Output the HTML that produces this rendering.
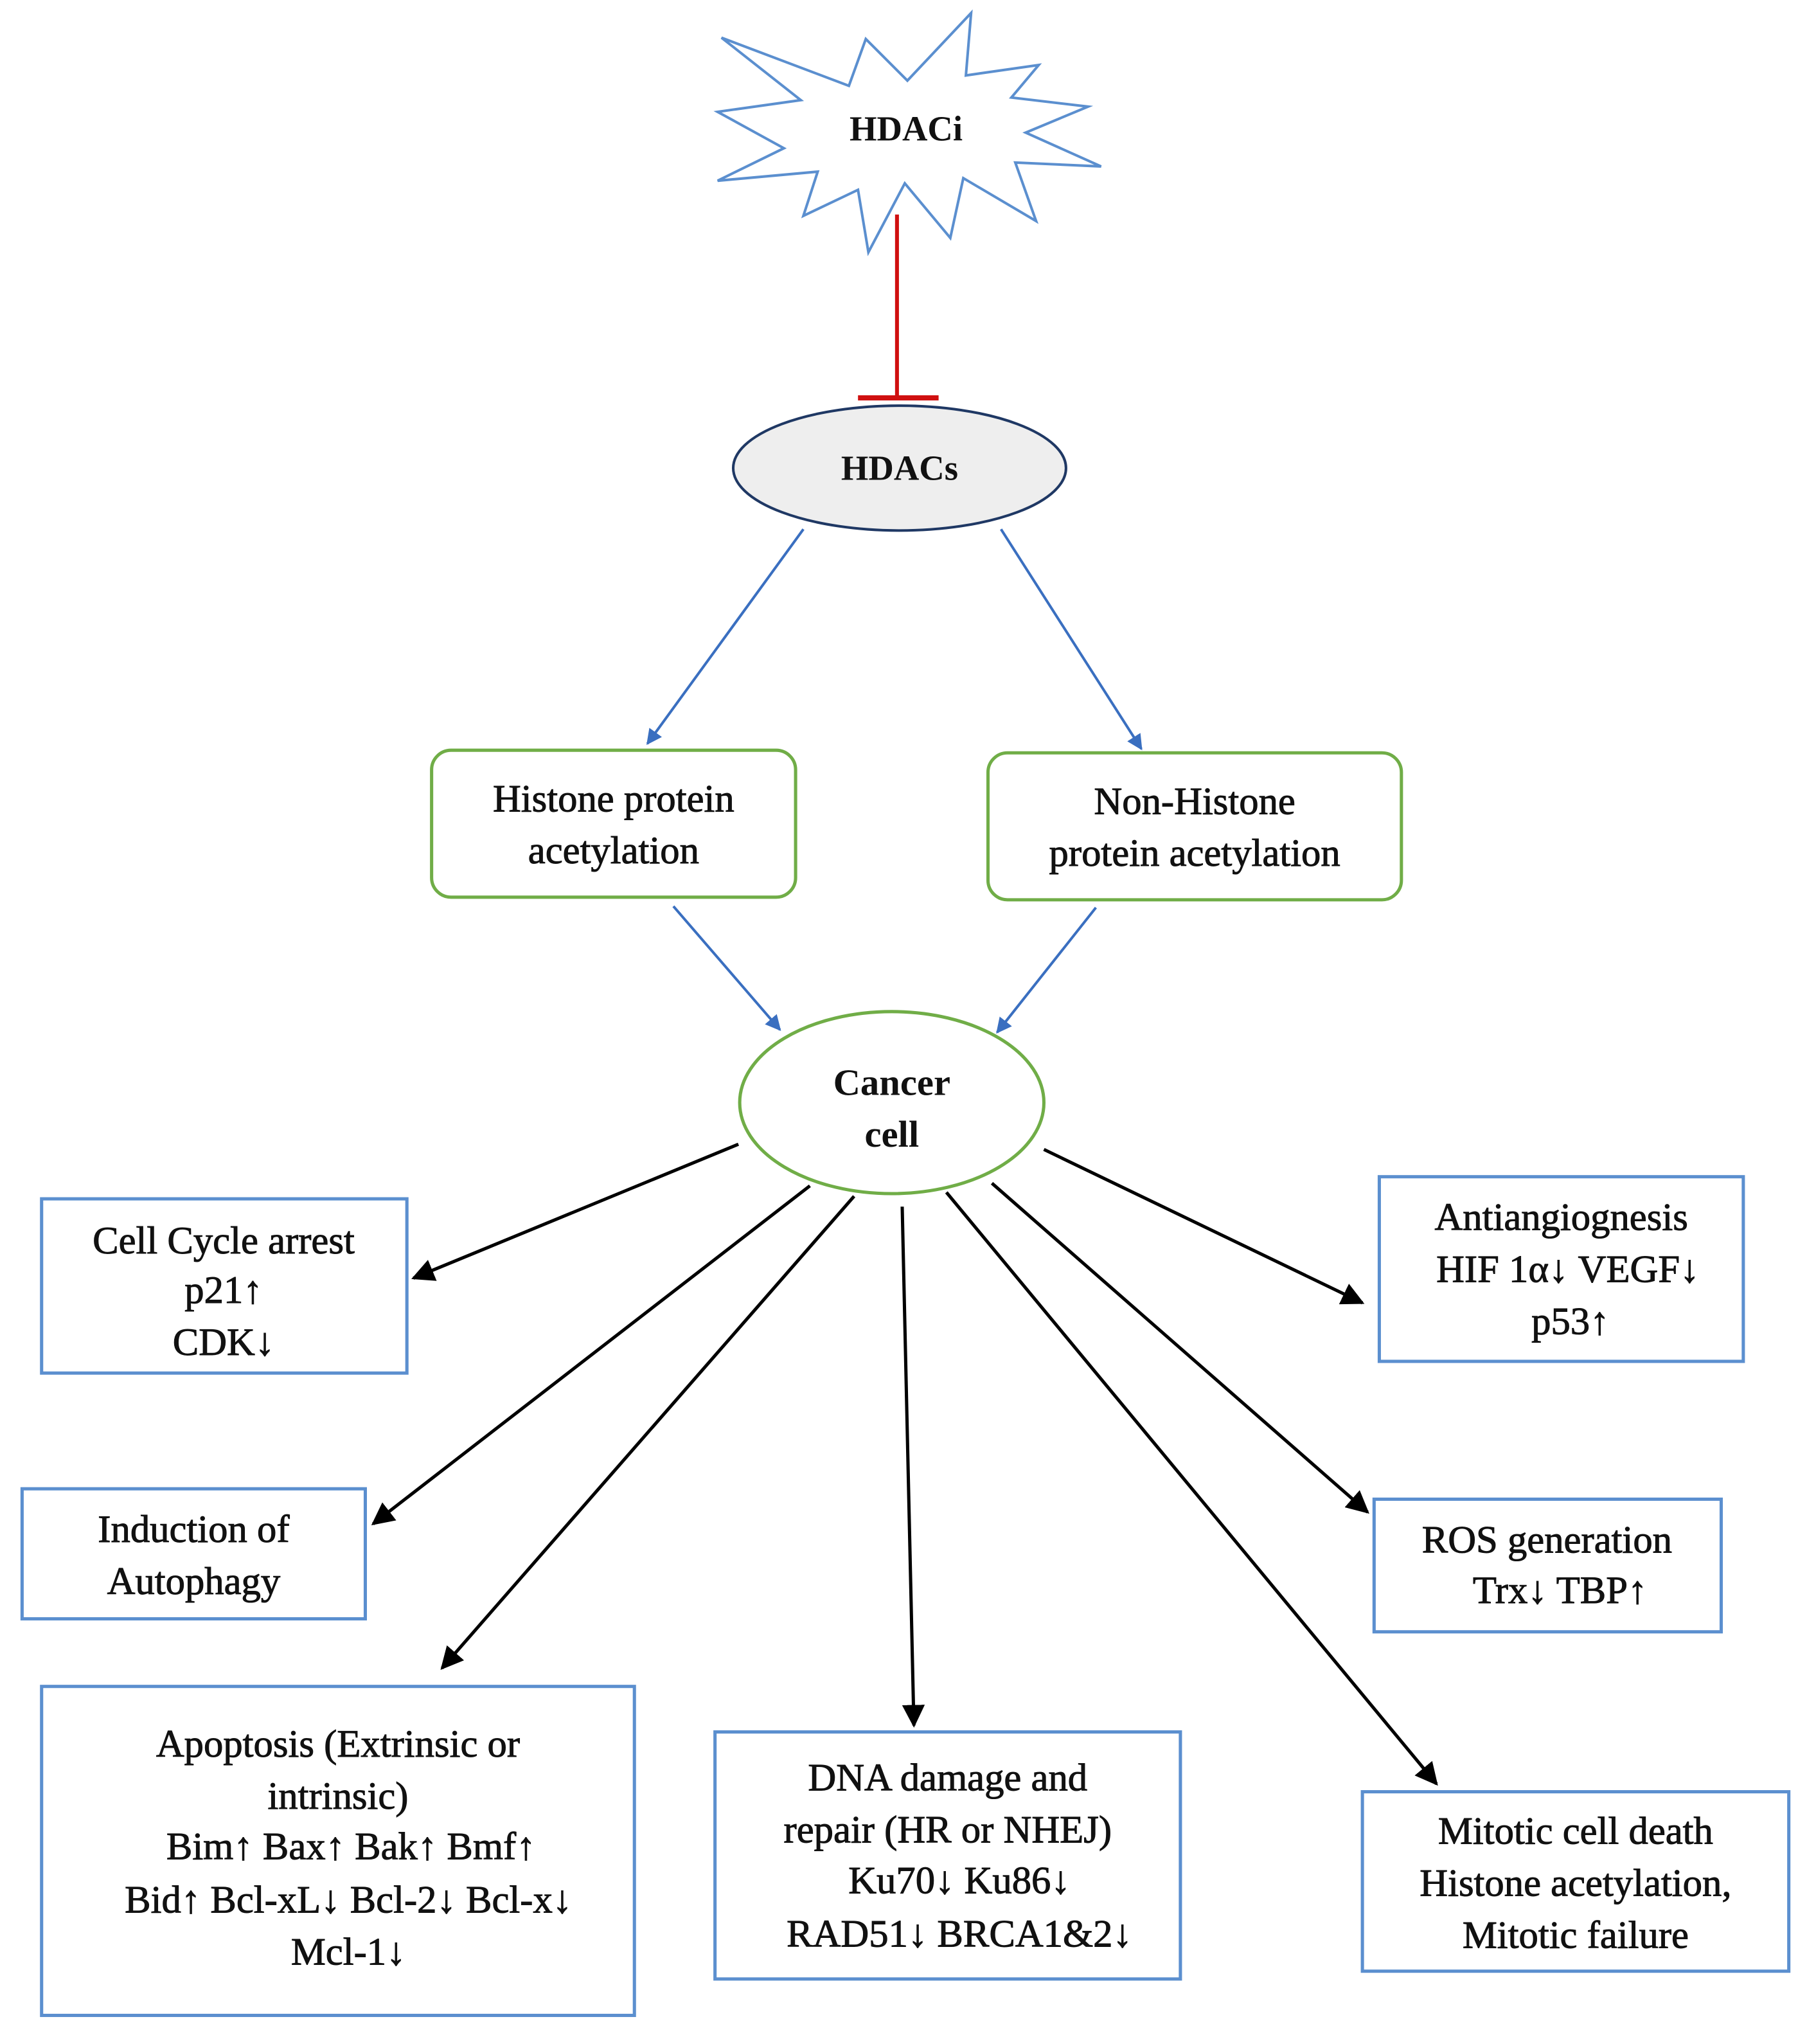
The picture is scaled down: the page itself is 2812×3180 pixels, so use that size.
<!DOCTYPE html>
<html><head><meta charset="utf-8"><style>
html,body{margin:0;padding:0;background:#fff}
svg{display:block}
text{font-family:"Liberation Serif",serif;fill:#111}
</style></head><body>
<svg width="2812" height="3180" viewBox="0 0 1390 1572" preserveAspectRatio="none" xmlns="http://www.w3.org/2000/svg">
<defs>
<marker id="ab" viewBox="0 0 10 10" refX="9" refY="5" markerWidth="6" markerHeight="6" orient="auto"><path d="M0,0 L10,5 L0,10 z" fill="#3a6fc0"/></marker>
<marker id="ak" viewBox="0 0 10 10" refX="9" refY="5" markerWidth="7" markerHeight="7" orient="auto"><path d="M0,0 L10,5 L0,10 z" fill="#000"/></marker>
</defs>
<polygon points="747,10 743,58 799,50 778,75 837,82 789,102 847,128 781,125 797,170 741,137 731,183 696,141 668,194 660,146 618,166 629,132 552,139 603,114 552,86 616,77 555,29 653,66 666,30 698,62" fill="#fff" stroke="#5b8fcf" stroke-width="2"/>
<text x="697" y="108" font-size="27" font-weight="bold" text-anchor="middle">HDACi</text>
<line x1="690" y1="165" x2="690" y2="305" stroke="#d01010" stroke-width="3"/>
<line x1="660" y1="306" x2="722" y2="306" stroke="#d01010" stroke-width="4"/>
<ellipse cx="692" cy="360" rx="128" ry="48" fill="#eeeeee" stroke="#1f3864" stroke-width="2"/>
<text x="692" y="369" font-size="27" font-weight="bold" text-anchor="middle">HDACs</text>
<line x1="618" y1="407" x2="498" y2="572" stroke="#3a6fc0" stroke-width="2" marker-end="url(#ab)"/>
<line x1="770" y1="407" x2="878" y2="576" stroke="#3a6fc0" stroke-width="2" marker-end="url(#ab)"/>
<rect x="332" y="577" width="280" height="113" rx="15" fill="#fff" stroke="#70ad47" stroke-width="2.5"/>
<g stroke="#111" stroke-width="0.5">
<text x="472" y="624" font-size="30" text-anchor="middle">Histone protein</text>
<text x="472" y="664" font-size="30" text-anchor="middle">acetylation</text>
</g>
<rect x="760" y="579" width="318" height="113" rx="15" fill="#fff" stroke="#70ad47" stroke-width="2.5"/>
<g stroke="#111" stroke-width="0.5">
<text x="919" y="626" font-size="30" text-anchor="middle">Non-Histone</text>
<text x="919" y="666" font-size="30" text-anchor="middle">protein acetylation</text>
</g>
<line x1="518" y1="697" x2="600" y2="792" stroke="#3a6fc0" stroke-width="2" marker-end="url(#ab)"/>
<line x1="843" y1="698" x2="767" y2="794" stroke="#3a6fc0" stroke-width="2" marker-end="url(#ab)"/>
<ellipse cx="686" cy="848" rx="117" ry="70" fill="#fff" stroke="#70ad47" stroke-width="2.5"/>
<text x="686" y="842" font-size="29" font-weight="bold" text-anchor="middle">Cancer</text>
<text x="686" y="882" font-size="29" font-weight="bold" text-anchor="middle">cell</text>
<g stroke="#000" stroke-width="2.5">
<line x1="568" y1="880" x2="318" y2="983" marker-end="url(#ak)"/>
<line x1="623" y1="912" x2="287" y2="1172" marker-end="url(#ak)"/>
<line x1="657" y1="920" x2="340" y2="1283" marker-end="url(#ak)"/>
<line x1="694" y1="928" x2="703" y2="1327" marker-end="url(#ak)"/>
<line x1="728" y1="917" x2="1105" y2="1372" marker-end="url(#ak)"/>
<line x1="763" y1="910" x2="1052" y2="1163" marker-end="url(#ak)"/>
<line x1="803" y1="884" x2="1048" y2="1002" marker-end="url(#ak)"/>
</g>
<g fill="#fff" stroke="#5b8fcf" stroke-width="2.5">
<rect x="32" y="922" width="281" height="134"/>
<rect x="17" y="1145" width="264" height="100"/>
<rect x="32" y="1297" width="456" height="253"/>
<rect x="550" y="1332" width="358" height="190"/>
<rect x="1048" y="1378" width="328" height="138"/>
<rect x="1057" y="1153" width="267" height="102"/>
<rect x="1061" y="905" width="280" height="142"/>
</g>
<g font-size="30" text-anchor="middle" stroke="#111" stroke-width="0.5">
<text x="172" y="964">Cell Cycle arrest</text>
<text x="172" y="1002">p21↑</text>
<text x="172" y="1042">CDK↓</text>
<text x="149" y="1186">Induction of</text>
<text x="149" y="1226">Autophagy</text>
<text x="260" y="1351">Apoptosis (Extrinsic or</text>
<text x="260" y="1391">intrinsic)</text>
<text x="270" y="1430">Bim↑ Bax↑ Bak↑ Bmf↑</text>
<text x="268" y="1471">Bid↑ Bcl-xL↓ Bcl-2↓ Bcl-x↓</text>
<text x="268" y="1511">Mcl-1↓</text>
<text x="729" y="1377">DNA damage and</text>
<text x="729" y="1417">repair (HR or NHEJ)</text>
<text x="738" y="1456">Ku70↓ Ku86↓</text>
<text x="738" y="1497">RAD51↓ BRCA1&amp;2↓</text>
<text x="1212" y="1418">Mitotic cell death</text>
<text x="1212" y="1458">Histone acetylation,</text>
<text x="1212" y="1498">Mitotic failure</text>
<text x="1190" y="1194">ROS generation</text>
<text x="1200" y="1233">Trx↓ TBP↑</text>
<text x="1201" y="946">Antiangiognesis</text>
<text x="1206" y="986">HIF 1α↓ VEGF↓</text>
<text x="1208" y="1026">p53↑</text>
</g>
</svg>
</body></html>
